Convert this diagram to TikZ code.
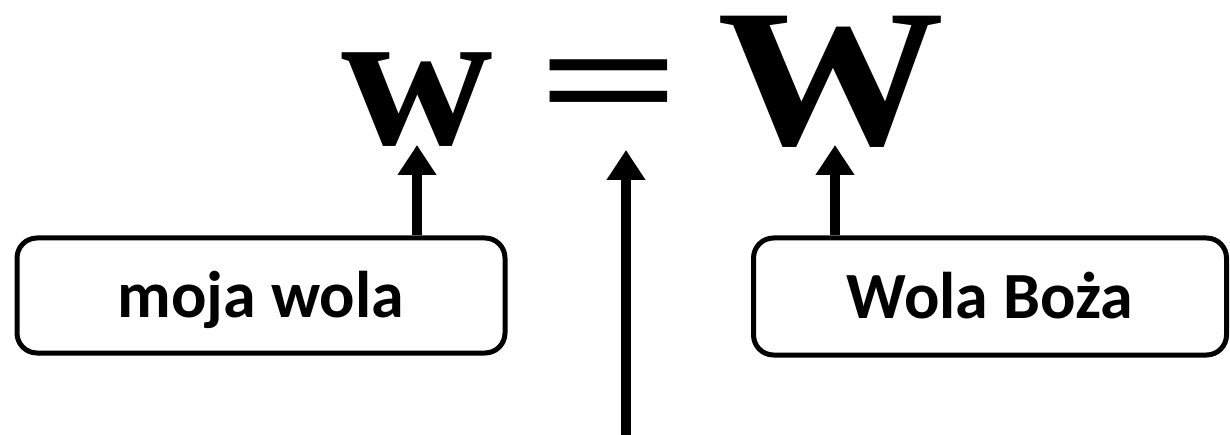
\documentclass[tikz,border=0pt]{standalone}
\usepackage{fontspec}
\setmainfont{Liberation Serif}
\newfontfamily\boxfont{Carlito}
\newfontfamily\smallwfont[FakeStretch=1.05]{Liberation Serif}
\newfontfamily\eqfont[FakeStretch=1.6]{Liberation Serif}
\newfontfamily\bigWfont[FakeStretch=1.16]{Liberation Serif}
\usetikzlibrary{arrows.meta}
\begin{document}
\begin{tikzpicture}[x=1pt,y=-1pt,
  wbox/.style={draw, line width=5pt, rounded corners=20pt, inner sep=0pt,
    font=\boxfont\bfseries\fontsize{66}{70}\selectfont, text height=50pt, text depth=6pt},
  big/.style={inner sep=0pt, anchor=base, text height=128pt, text depth=0pt},
  arr/.style={line width=10pt, -{Triangle[length=30pt,width=37pt]}}]
\useasboundingbox (0,0) rectangle (1230,435);
\node[big, font=\smallwfont\bfseries\fontsize{200}{200}\selectfont] (w1) at (417,145) {w};
\node[big, font=\eqfont\bfseries\fontsize{158}{158}\selectfont, text height=80pt] (eq) at (610,134) {=};
\node[big, font=\bigWfont\bfseries\fontsize{196}{196}\selectfont] (W2) at (831,145) {W};
\node[wbox, minimum width=488pt, minimum height=115pt] (b1) at (261,295.5) {moja wola};
\node[wbox, minimum width=473pt, minimum height=117pt] (b2) at (990,296.5) {Wola Boża};
\coordinate (bot) at (626,435);
\draw[arr] (w1.base |- b1.north) -- (w1.base);
\draw[arr] (bot) -- ([yshift=-16pt]bot |- eq.base);
\draw[arr] ([xshift=4pt]W2.base |- b2.north) -- ([xshift=4pt]W2.base);
\end{tikzpicture}
\end{document}
